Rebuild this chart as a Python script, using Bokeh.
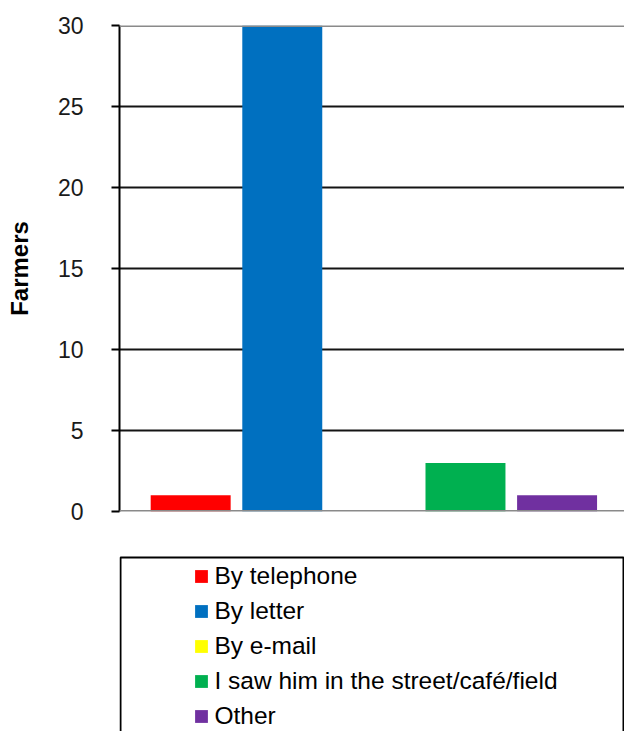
from bokeh.plotting import figure
from bokeh.layouts import column
from bokeh.models import ColumnDataSource, Range1d, FixedTicker, Span, BoxAnnotation, Legend, LegendItem
from bokeh.embed import file_html
from bokeh.resources import INLINE

# How farmers were contacted
series = ["By telephone", "By letter", "By e-mail",
          "I saw him in the street/café/field", "Other"]
farmers = [1, 30, 0, 3, 1]
colors = ["#FF0000", "#0070C0", "#FFFF00", "#00B050", "#7030A0"]
y_ticks = [0, 5, 10, 15, 20, 25, 30]
grid_ticks = [5, 10, 15, 20, 25]

FONT = "Liberation Sans"
W = 624
H_CHART = 540
H_KEY = 191
FRAME_LEFT = 119

slot = list(range(len(series)))
src = ColumnDataSource(dict(slot=slot, farmers=farmers, series=series, color=colors))

# ---- bar chart ----
p = figure(width=W, height=H_CHART, output_backend="svg", toolbar_location=None,
           x_range=Range1d(-0.777, 4.736), y_range=Range1d(0, 30),
           min_border_left=FRAME_LEFT, min_border_right=0, min_border_top=25,
           min_border_bottom=H_CHART - 511, title=None)
p.outline_line_color = None
p.background_fill_color = "white"
p.border_fill_color = "white"

p.vbar(x="slot", top="farmers", width=0.873, source=src,
       fill_color="color", line_color=None)

p.xaxis.visible = False
p.xgrid.visible = False
ax = p.yaxis[0]
ax.ticker = FixedTicker(ticks=y_ticks)
ax.axis_label = "Farmers"
ax.axis_label_text_font = FONT
ax.axis_label_text_font_size = "24px"
ax.axis_label_text_font_style = "bold"
ax.axis_label_text_color = "black"
ax.axis_label_standoff = 22
ax.major_label_text_font = FONT
ax.major_label_text_font_size = "23px"
ax.major_label_text_color = "#1a1a1a"
ax.major_label_standoff = 28
ax.major_tick_out = 8
ax.major_tick_in = 0
ax.minor_tick_out = 0
ax.minor_tick_in = 0
ax.axis_line_color = "black"
ax.axis_line_width = 2
ax.major_tick_line_color = "black"
ax.major_tick_line_width = 2

g = p.ygrid[0]
g.ticker = FixedTicker(ticks=grid_ticks)
g.grid_line_color = "#141414"
g.grid_line_width = 2

# top and bottom edge lines of the plot area
p.add_layout(Span(location=30, dimension="width", line_color="#8a8a8a", line_width=3))
p.add_layout(Span(location=0, dimension="width", line_color="#8a8a8a", line_width=3))

# ---- key panel below the chart (page-pixel coordinates, y downward) ----
k = figure(width=W, height=H_KEY, output_backend="svg", toolbar_location=None,
           x_range=Range1d(FRAME_LEFT, W), y_range=Range1d(H_KEY, 0),
           min_border_left=FRAME_LEFT, min_border_right=0, min_border_top=0,
           min_border_bottom=0, title=None)
k.axis.visible = False
k.grid.visible = False
k.outline_line_color = None
k.background_fill_color = "white"
k.border_fill_color = "white"

# swatch source for the key: same series and colours, renderer itself hidden
key_r = k.vbar(x="slot", top="farmers", width=0.873, source=src,
               fill_color="color", line_color=None)
key_r.visible = False
items = [LegendItem(label=name, renderers=[key_r], index=i)
         for i, name in enumerate(series)]

leg = Legend(items=items, location=(74.4, 0))
leg.border_line_color = None
leg.background_fill_alpha = 0
leg.inactive_fill_alpha = 0
leg.padding = 0
leg.margin = 0
leg.spacing = 5
leg.glyph_width = 16
leg.glyph_height = 16
leg.label_height = 30
leg.label_standoff = 5
leg.label_text_font = FONT
leg.label_text_font_size = "24.5px"
leg.label_text_color = "black"
k.add_layout(leg)

k.add_layout(BoxAnnotation(left=120, right=623, top=17, bottom=H_KEY + 20,
                           fill_color=None, fill_alpha=0,
                           line_color="black", line_alpha=1, line_width=2,
                           level="underlay"))

layout = column(p, k, spacing=0)
open("out.html", "w").write(file_html(layout, INLINE))
